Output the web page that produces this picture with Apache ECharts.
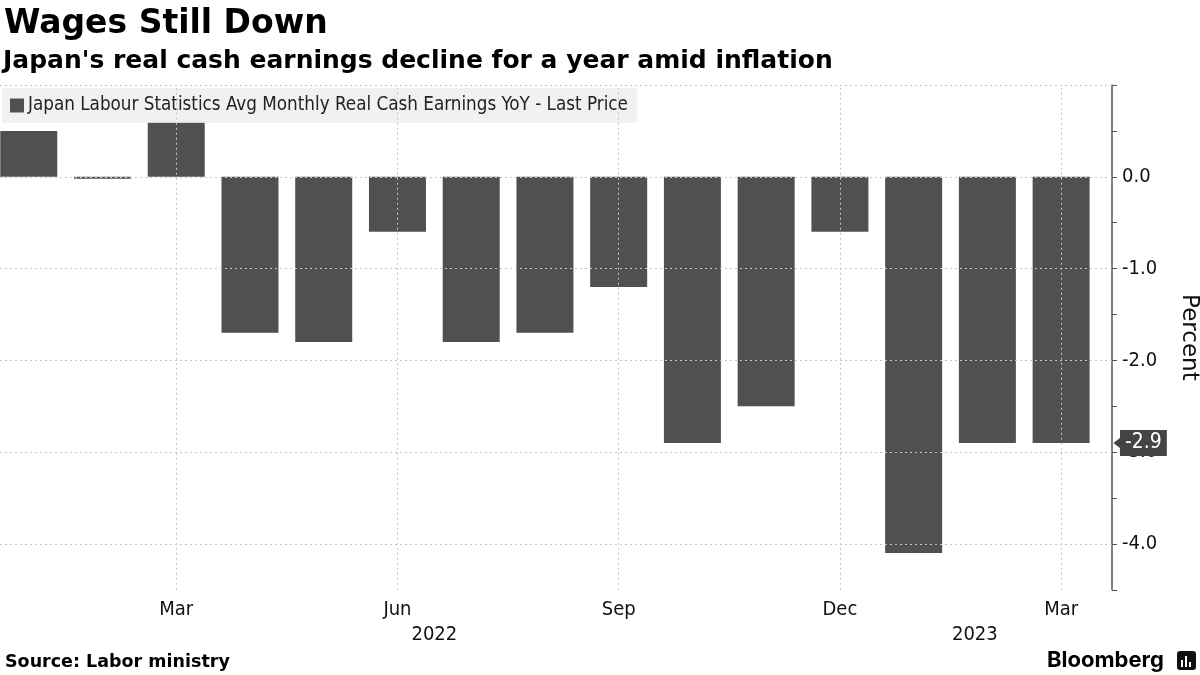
<!DOCTYPE html>
<html>
<head>
<meta charset="utf-8">
<script src="https://cdn.jsdelivr.net/npm/echarts@6/dist/echarts.min.js"></script>
<style>
html,body{margin:0;padding:0;background:#fff;}
#chart{width:1200px;height:675px;}
</style>
</head>
<body>
<div id="chart"></div>
<script>
// ---- Data ----
const months = ['Jan 2022','Feb 2022','Mar 2022','Apr 2022','May 2022','Jun 2022','Jul 2022','Aug 2022','Sep 2022','Oct 2022','Nov 2022','Dec 2022','Jan 2023','Feb 2023','Mar 2023'];
const values = [0.5, 0.0, 0.6, -1.7, -1.8, -0.6, -1.8, -1.7, -1.2, -2.9, -2.5, -0.6, -4.1, -2.9, -2.9];
const tickIndex = [2, 5, 8, 11, 14];
const tickLabels = ['Mar', 'Jun', 'Sep', 'Dec', 'Mar'];
const yearPos = [5.5, 12.83];
const yearLabels = ['2022', '2023'];
const yGridValues = [1, 0, -1, -2, -3, -4];
const seriesName = 'Japan Labour Statistics Avg Monthly Real Cash Earnings YoY - Last Price';

const X_MIN = -0.39, X_MAX = 14.69;
const condensed = '"DejaVu Sans Condensed", "DejaVu Sans", sans-serif';
const bold = '"DejaVu Sans", sans-serif';

const chart = echarts.init(document.getElementById('chart'));
const last = values[values.length - 1];

chart.setOption({
  animation: false,
  backgroundColor: '#fff',
  title: [
    { text: 'Wages Still Down', left: 4, top: 8, padding: 0,
      textStyle: { fontFamily: bold, fontWeight: 'bold', fontSize: 33, color: '#000' } },
    { text: "Japan's real cash earnings decline for a year amid inflation", left: 3, top: 49, padding: 0,
      textStyle: { fontFamily: bold, fontWeight: 'bold', fontSize: 25, color: '#000' } },
    { text: 'Source: Labor ministry', left: 5, top: 653, padding: 0,
      textStyle: { fontFamily: bold, fontWeight: 'bold', fontSize: 17.5, color: '#000' } },
    { text: 'Bloomberg', left: 1047, top: 649, padding: 0,
      textStyle: { fontFamily: 'Inter, Roboto, sans-serif', fontWeight: 'bold', fontSize: 22, color: '#000' } }
  ],
  graphic: [
    { type: 'rect', left: 1177, top: 651, shape: { width: 19, height: 19, r: 3 }, style: { fill: '#111' } },
    { type: 'rect', left: 1181, top: 660, shape: { width: 2, height: 7 }, style: { fill: '#fff' } },
    { type: 'rect', left: 1185, top: 656, shape: { width: 2, height: 11 }, style: { fill: '#fff' } },
    { type: 'rect', left: 1189, top: 662, shape: { width: 2, height: 5 }, style: { fill: '#fff' } }
  ],
  legend: {
    data: [seriesName],
    left: 2, top: 88,
    backgroundColor: 'rgba(238,238,238,0.85)',
    padding: [8, 9, 8, 8],
    itemWidth: 14, itemHeight: 14, itemGap: 4,
    icon: 'rect',
    itemStyle: { color: '#505050' },
    textStyle: { fontFamily: condensed, fontSize: 18.7, color: '#222', padding: [0, 0, 0, -1] }
  },
  grid: { left: 0, right: 88, top: 85, bottom: 85.25, containLabel: false, outerBoundsMode: 'none' },
  xAxis: [
    { type: 'value', min: X_MIN, max: X_MAX,
      axisLine: { show: false }, axisTick: { show: false }, splitLine: { show: false },
      axisLabel: { customValues: tickIndex, margin: 10, fontFamily: condensed, fontSize: 20, color: '#111',
        formatter: v => { const k = tickIndex.findIndex(t => Math.abs(t - v) < 1e-6); return k >= 0 ? tickLabels[k] : ''; } } },
    { type: 'value', min: X_MIN, max: X_MAX, position: 'bottom', offset: 25,
      axisLine: { show: false }, axisTick: { show: false }, splitLine: { show: false },
      axisLabel: { customValues: yearPos, margin: 10, fontFamily: condensed, fontSize: 20, color: '#111',
        formatter: v => { const k = yearPos.findIndex(t => Math.abs(t - v) < 1e-6); return k >= 0 ? yearLabels[k] : ''; } } }
  ],
  yAxis: {
    type: 'value', position: 'right', min: -4.5, max: 1, interval: 0.5,
    name: 'Percent', nameLocation: 'middle', nameRotate: -90, nameGap: 65,
    nameTextStyle: { fontFamily: '"DejaVu Sans", sans-serif', fontSize: 23, color: '#111' },
    axisLine: { show: true, onZero: false, lineStyle: { color: '#555', width: 1.5 } },
    axisTick: { show: true, length: 5, lineStyle: { color: '#555' } },
    splitLine: { show: false },
    axisLabel: { margin: 10, fontFamily: condensed, fontSize: 20, color: '#111',
      formatter: v => (v <= 0 && Math.abs(v - Math.round(v)) < 1e-6) ? v.toFixed(1) : '' }
  },
  series: [
    { type: 'line', data: [], z: 1, silent: true,
      markLine: { symbol: 'none', silent: true, animation: false,
        lineStyle: { type: [2, 3], color: '#c4c4c4', width: 1 }, label: { show: false },
        data: yGridValues.map(v => ({ yAxis: v })).concat(tickIndex.map(v => ({ xAxis: v }))) } },
    { type: 'bar', name: seriesName, z: 3,
      data: values.map((v, i) => [i, v]),
      barWidth: 57, barMinHeight: 2,
      itemStyle: { color: '#505050' },
      markLine: { symbol: 'none', silent: true, animation: false,
        lineStyle: { color: 'rgba(0,0,0,0)', width: 0 },
        label: { show: true, position: 'end', distance: 8, formatter: last.toFixed(1), opacity: 1,
          backgroundColor: '#444', color: '#fff', fontFamily: condensed, fontSize: 21, padding: [3, 5, 2, 5] },
        data: [{ yAxis: last }] },
      markPoint: { silent: true, animation: false,
        symbol: 'triangle', symbolSize: [14, 9], symbolRotate: 90, symbolOffset: [6, 0],
        itemStyle: { color: '#444' }, label: { show: false },
        data: [{ coord: [X_MAX, last] }] } }
  ]
});
</script>
</body>
</html>
